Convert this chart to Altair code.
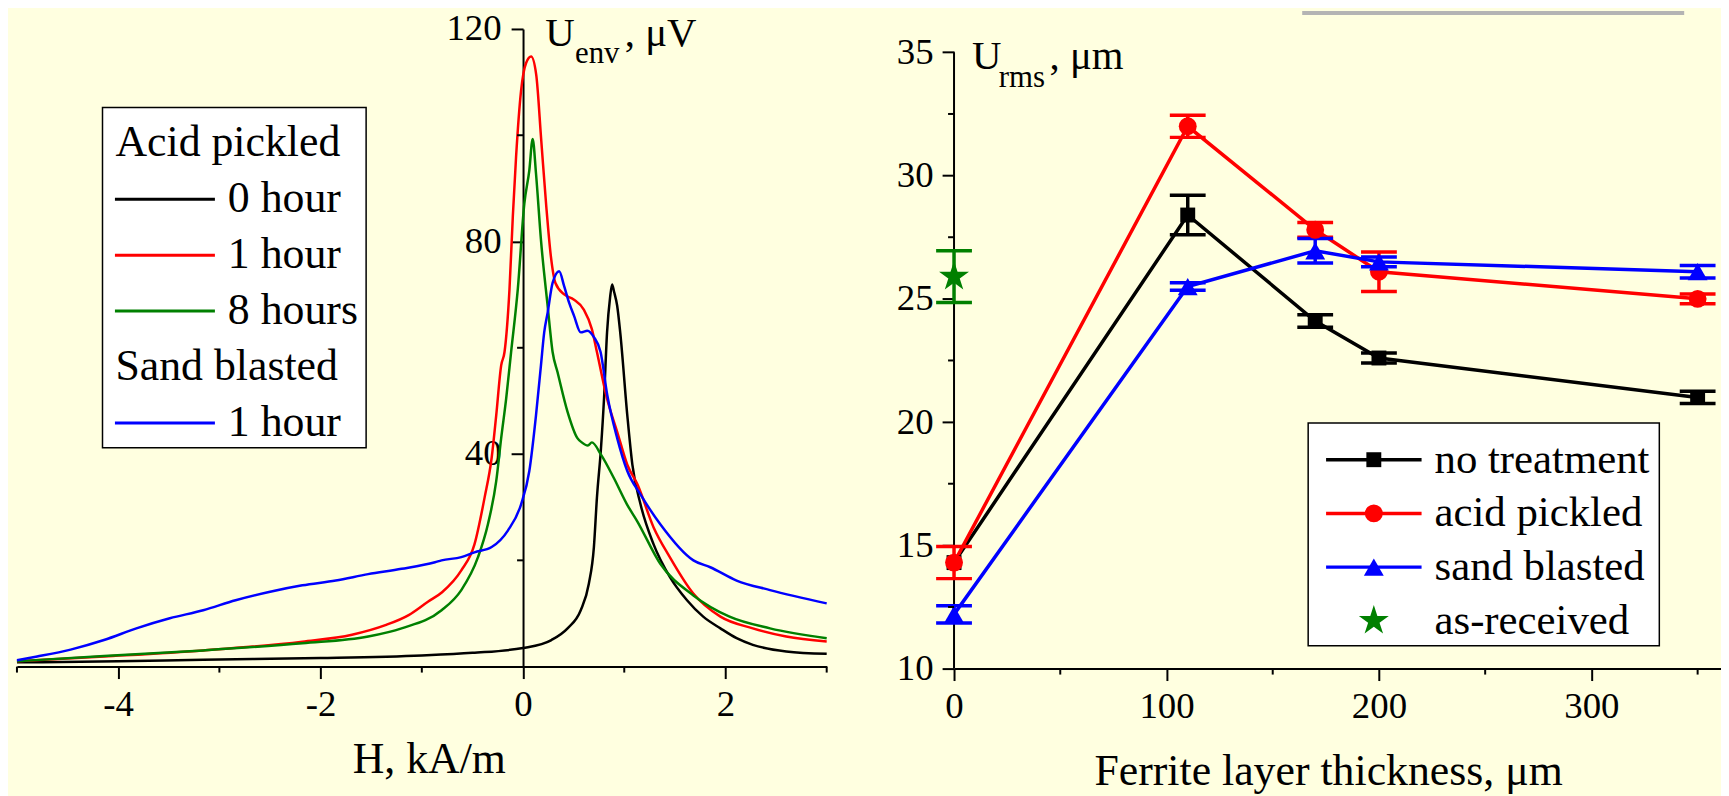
import altair as alt
import pandas as pd

FONT = ("Liberation Serif, Tinos, Nimbus Roman, Noto Serif, FreeSerif, "
        "DejaVu Serif, Times New Roman, Times, serif")
BG = "#FFFFE0"

# ---------------- left panel: U_env (µV) versus H (kA/m) ----------------
acid0_H = [-5.0, -4.0, -3.16, -2.0, -1.0, -0.5, 0.0, 0.28, 0.44, 0.57, 0.65, 0.70, 0.73, 0.77,
           0.80, 0.83, 0.86, 0.88, 0.90, 0.93, 0.96, 1.03, 1.08, 1.16, 1.29, 1.45, 1.62, 1.78,
           1.95, 2.11, 2.27, 2.6, 3.0]
acid0_U = [0.8, 1.0, 1.3, 1.6, 2.1, 2.6, 3.5, 5.0, 7.2, 10.6, 15.6, 22.5, 31.8, 41.1,
           50.4, 62.9, 69.5, 71.9, 70.5, 67.9, 62.9, 47.3, 38.0, 30.6, 23.0, 16.9, 12.5, 9.4,
           7.2, 5.35, 4.1, 2.86, 2.4]

acid1_H = [-5.0, -4.14, -3.16, -2.18, -1.69, -1.36, -1.13, -0.94, -0.80, -0.61, -0.48, -0.38,
           -0.31, -0.265, -0.216, -0.183, -0.134, -0.101, -0.069, -0.02, 0.03, 0.08, 0.13,
           0.18, 0.23, 0.275, 0.32, 0.41, 0.50, 0.60, 0.68, 0.73, 0.83, 0.93, 1.03, 1.13,
           1.29, 1.45, 1.68, 1.95, 2.27, 2.6, 3.0]
acid1_U = [1.0, 1.9, 3.05, 4.7, 6.0, 7.8, 9.7, 12.2, 14.0, 18.1, 23.0, 31.8,
           39.3, 47.3, 56.7, 59.2, 71.0, 84.7, 95.9, 108.3, 113.6, 114.8, 111.4,
           99.0, 86.5, 77.2, 72.2, 70.0, 69.1, 67.2, 63.5, 59.2, 50.4, 44.2, 38.0, 34.3,
           26.2, 20.6, 13.8, 9.4, 7.2, 5.66, 4.73]

acid8_H = [-5.0, -4.14, -3.16, -2.18, -1.53, -1.2, -0.805, -0.61, -0.445, -0.347, -0.265,
           -0.216, -0.167, -0.118, -0.052, 0.013, 0.062, 0.095, 0.128, 0.177, 0.243, 0.292,
           0.341, 0.439, 0.537, 0.58, 0.64, 0.68, 0.77, 0.897, 1.028, 1.127, 1.356, 1.683,
           2.04, 2.44, 3.0]
acid8_U = [1.0, 2.0, 3.05, 4.4, 5.66, 7.2, 10.6, 14.4, 20.6, 26.8, 34.9,
           43.0, 50.4, 59.2, 71.0, 87.2, 93.4, 99.3, 92.8, 80.3, 67.9, 59.2,
           55.4, 48.0, 43.0, 42.2, 41.6, 42.2, 39.9, 35.5, 30.5, 27.4, 19.35, 13.4,
           9.4, 7.2, 5.35]

sand1_H = [-5.0, -4.8, -4.47, -4.14, -3.82, -3.49, -3.16, -2.84, -2.51, -2.18, -1.85, -1.53,
           -1.2, -0.87, -0.805, -0.61, -0.48, -0.31, -0.15, -0.02, 0.062, 0.128, 0.177, 0.209,
           0.243, 0.292, 0.357, 0.406, 0.455, 0.504, 0.57, 0.636, 0.70, 0.766, 0.832, 0.93,
           1.03, 1.16, 1.356, 1.683, 1.85, 2.11, 2.44, 3.0]
sand1_U = [1.2, 1.9, 3.2, 5.0, 7.2, 9.1, 10.6, 12.5, 14.05, 15.3, 16.2, 17.4,
           18.4, 19.65, 20.0, 20.6, 21.5, 22.5, 25.6, 30.5, 36.8, 47.3, 56.7, 62.9,
           66.6, 72.2, 74.4, 71.6, 68.5, 66.0, 62.9, 63.2, 62.0, 59.2, 51.1, 43.0,
           36.8, 32.4, 26.8, 20.0, 18.7, 16.2, 14.4, 11.9]

left_series = ["acid 0 hour", "acid 1 hour", "acid 8 hours", "sand 1 hour"]
left_colors = ["#000000", "#FF0000", "#008000", "#0000FF"]
left_legend_labels = ["Acid pickled", "0 hour", "1 hour", "8 hours", "Sand blasted", "1 hour"]
left_legend_keys = ["", "acid 0 hour", "acid 1 hour", "acid 8 hours", "", "sand 1 hour"]

# ---------------- right panel: U_rms versus ferrite layer thickness ----------------
thickness = [0, 110, 170, 200, 350]
no_treat = [14.3, 28.4, 24.1, 22.6, 21.0]
no_treat_err = [0.0, 0.8, 0.25, 0.2, 0.25]
acid = [14.3, 32.0, 27.8, 26.1, 25.0]
acid_err = [0.65, 0.45, 0.3, 0.8, 0.2]
sand = [12.2, 25.5, 26.95, 26.5, 26.1]
sand_err = [0.35, 0.15, 0.5, 0.2, 0.25]
asrec_x = [0]
asrec = [25.9]
asrec_err = [1.05]
right_series = ["no treatment", "acid pickled", "sand blasted", "as-received"]
right_colors = ["#000000", "#FF0000", "#0000FF", "#008000"]

STAR = ("M0,-1L0.2245,-0.309L0.9511,-0.309L0.3633,0.118L0.5878,0.809L0,0.382"
        "L-0.5878,0.809L-0.3633,0.118L-0.9511,-0.309L-0.2245,-0.309Z")
right_shapes = ["square", "circle", "triangle-up", STAR]
right_sizes = [225, 324, 400, 1000]

# ---------------- tables ----------------
rows = []
for s, hs, us in zip(left_series, [acid0_H, acid1_H, acid8_H, sand1_H],
                     [acid0_U, acid1_U, acid8_U, sand1_U]):
    for h, u in zip(hs, us):
        rows.append({"series": s, "H": h, "U": u})
curves = pd.DataFrame(rows)

prow = []
for s, xs, ys, es in zip(right_series,
                         [thickness, thickness, thickness, asrec_x],
                         [no_treat, acid, sand, asrec],
                         [no_treat_err, acid_err, sand_err, asrec_err]):
    for xv, yv, ev in zip(xs, ys, es):
        prow.append({"series": s, "t": xv, "u": yv, "lo": yv - ev, "hi": yv + ev})
pts = pd.DataFrame(prow)

one = pd.DataFrame({"k": [0]})

# ---------------- left chart ----------------
W1, H1 = 814, 641
x0px = W1 * 5 / 8
xs1 = alt.Scale(domain=[-5, 3], nice=False, zero=False)
ys1 = alt.Scale(domain=[0, 120], nice=False)
cs1 = alt.Scale(domain=left_series, range=left_colors)
neg_label = "datum.value < 0 ? '-' + abs(datum.value) : '' + datum.value"

left_lines = alt.Chart(curves).mark_line(strokeWidth=2.5, interpolate="monotone").encode(
    x=alt.X("H:Q", scale=xs1, axis=alt.Axis(values=[-4, -2, 0, 2], title="H, kA/m",
            tickSize=12, labelPadding=8, labelFlush=False, labelExpr=neg_label,
            titleX=414, titleY=93, titleAlign="center", titleBaseline="middle")),
    y=alt.Y("U:Q", scale=ys1, axis=alt.Axis(values=[40, 80, 120], title=None,
            offset=-x0px, tickSize=12, labelPadding=10)),
    color=alt.Color("series:N", scale=cs1, legend=None),
)

minor_x1 = pd.DataFrame({"v": [-5, -3, -1, 1, 3]})
minor_y1 = pd.DataFrame({"v": [20, 60, 100]})
left_mx = alt.Chart(minor_x1).mark_rule(color="black", strokeWidth=2).encode(
    x="v:Q", y=alt.value(H1), y2=alt.value(H1 + 6))
left_my = alt.Chart(minor_y1).mark_rule(color="black", strokeWidth=2).encode(
    y="v:Q", x=alt.value(x0px - 6), x2=alt.value(x0px))

leg1 = pd.DataFrame({"label": left_legend_labels, "key": left_legend_keys,
                     "row": list(range(6))})
leg1["py"] = 115 + leg1["row"] * 56.2
leg1_box = alt.Chart(one).mark_rect(fill="white", stroke="black", strokeWidth=1.5).encode(
    x=alt.value(86), x2=alt.value(351), y=alt.value(79), y2=alt.value(421))
leg1_head = alt.Chart(leg1).transform_filter("datum.key == ''").mark_text(
    align="left", baseline="middle", font=FONT, fontSize=44, color="black").encode(
    x=alt.value(99), y=alt.Y("py:Q", scale=None), text="label:N")
leg1_lines = alt.Chart(leg1).transform_filter("datum.key != ''").mark_rule(strokeWidth=3).encode(
    x=alt.value(98.5), x2=alt.value(199), y=alt.Y("py:Q", scale=None),
    color=alt.Color("key:N", scale=cs1, legend=None))
leg1_text = alt.Chart(leg1).transform_filter("datum.key != ''").mark_text(
    align="left", baseline="middle", font=FONT, fontSize=44, color="black").encode(
    x=alt.value(212), y=alt.Y("py:Q", scale=None), text="label:N")

t1a = alt.Chart(one).mark_text(text="U", align="left", baseline="alphabetic", font=FONT,
                               fontSize=41, color="black").encode(x=alt.value(531), y=alt.value(17))
t1b = alt.Chart(one).mark_text(text="env", align="left", baseline="alphabetic", font=FONT,
                               fontSize=31, color="black").encode(x=alt.value(561), y=alt.value(34))
t1c = alt.Chart(one).mark_text(text=", μV", align="left", baseline="alphabetic", font=FONT,
                               fontSize=41, color="black").encode(x=alt.value(611), y=alt.value(17))

left = alt.layer(left_lines, left_mx, left_my, leg1_box, leg1_head, leg1_lines, leg1_text,
                 t1a, t1b, t1c).properties(width=W1, height=H1)

# ---------------- right chart ----------------
W2, H2 = 771, 643
ytop = 10 + 25 * H2 / 619.5
xs2 = alt.Scale(domain=[0, 361], nice=False, zero=False)
ys2 = alt.Scale(domain=[10, ytop], nice=False, zero=False)
cs2 = alt.Scale(domain=right_series, range=right_colors)

ydom = alt.Chart(pd.DataFrame({"a": [10], "b": [35]})).mark_rule(
    color="black", strokeWidth=2).encode(
    x=alt.value(0),
    y=alt.Y("a:Q", scale=ys2, axis=alt.Axis(values=[10, 15, 20, 25, 30, 35], title=None,
            domain=False, tickSize=12, labelPadding=9)),
    y2="b:Q")

base2 = alt.Chart(pts)
errbase = base2.transform_filter("datum.hi > datum.lo")
r_lines = base2.transform_filter("datum.series != 'as-received'").mark_line(strokeWidth=3.5).encode(
    x=alt.X("t:Q", scale=xs2, axis=alt.Axis(values=[0, 100, 200, 300],
            title="Ferrite layer thickness, μm", tickSize=12, labelPadding=8,
            labelFlush=False, titleX=376, titleY=104, titleAlign="center",
            titleBaseline="middle")),
    y="u:Q",
    color=alt.Color("series:N", scale=cs2, legend=None))
r_err = errbase.mark_rule(strokeWidth=3.5).encode(
    x="t:Q", y="lo:Q", y2="hi:Q", color=alt.Color("series:N", scale=cs2, legend=None))
r_cap_lo = errbase.mark_rule(strokeWidth=3.5, xOffset=-18, x2Offset=18).encode(
    x="t:Q", x2="t:Q", y="lo:Q", color=alt.Color("series:N", scale=cs2, legend=None))
r_cap_hi = errbase.mark_rule(strokeWidth=3.5, xOffset=-18, x2Offset=18).encode(
    x="t:Q", x2="t:Q", y="hi:Q", color=alt.Color("series:N", scale=cs2, legend=None))

point_layers = []
legend_point_layers = []
leg2 = pd.DataFrame({"series": right_series, "row": list(range(4))})
leg2["py"] = 433 + leg2["row"] * 54
for s, col, shp, sz in zip(right_series, right_colors, right_shapes, right_sizes):
    point_layers.append(
        base2.transform_filter(alt.datum.series == s).mark_point(
            filled=True, opacity=1, strokeWidth=0, shape=shp, size=sz, color=col).encode(
            x="t:Q", y="u:Q"))
    legend_point_layers.append(
        alt.Chart(leg2).transform_filter(alt.datum.series == s).mark_point(
            filled=True, opacity=1, strokeWidth=0, shape=shp, size=sz, color=col).encode(
            x=alt.value(422), y=alt.Y("py:Q", scale=None)))

minor_x2 = pd.DataFrame({"v": [50, 150, 250, 350]})
minor_y2 = pd.DataFrame({"v": [12.5, 17.5, 22.5, 27.5, 32.5]})
r_mx = alt.Chart(minor_x2).mark_rule(color="black", strokeWidth=2).encode(
    x="v:Q", y=alt.value(H2), y2=alt.value(H2 + 6))
r_my = alt.Chart(minor_y2).mark_rule(color="black", strokeWidth=2).encode(
    y="v:Q", x=alt.value(-6), x2=alt.value(0))

leg2_box = alt.Chart(one).mark_rect(fill="white", stroke="black", strokeWidth=1.5).encode(
    x=alt.value(356), x2=alt.value(709), y=alt.value(396), y2=alt.value(620))
leg2_lines = alt.Chart(leg2).transform_filter("datum.series != 'as-received'").mark_rule(
    strokeWidth=3.5).encode(x=alt.value(374), x2=alt.value(470), y=alt.Y("py:Q", scale=None),
                            color=alt.Color("series:N", scale=cs2, legend=None))
leg2_text = alt.Chart(leg2).mark_text(align="left", baseline="middle", font=FONT,
                                      fontSize=43, color="black").encode(
    x=alt.value(483), y=alt.Y("py:Q", scale=None), text="series:N")

t2a = alt.Chart(one).mark_text(text="U", align="left", baseline="alphabetic", font=FONT,
                               fontSize=41, color="black").encode(x=alt.value(18), y=alt.value(40))
t2b = alt.Chart(one).mark_text(text="rms", align="left", baseline="alphabetic", font=FONT,
                               fontSize=31, color="black").encode(x=alt.value(45), y=alt.value(58))
t2c = alt.Chart(one).mark_text(text=", μm", align="left", baseline="alphabetic", font=FONT,
                               fontSize=41, color="black").encode(x=alt.value(96), y=alt.value(40))

grey_bar = alt.Chart(one).mark_rect(fill="#B4B4B4").encode(
    x=alt.value(350), x2=alt.value(734), y=alt.value(-18), y2=alt.value(-14))

right = alt.layer(ydom, r_lines, r_err, r_cap_lo, r_cap_hi, *point_layers, r_mx, r_my,
                  leg2_box, leg2_lines, *legend_point_layers, leg2_text, t2a, t2b, t2c,
                  grey_bar).properties(width=W2, height=H2)

chart = alt.hconcat(left, right, spacing=128, bounds="flush").resolve_scale(
    color="independent"
).properties(
    padding={"left": 4, "top": 0, "right": 0, "bottom": 0},
    background=BG,
).configure_view(stroke=None).configure_axis(
    labelFont=FONT, titleFont=FONT, labelFontSize=37, titleFontSize=44,
    titleFontWeight="normal", labelColor="black", titleColor="black",
    domainColor="black", tickColor="black", domainWidth=2, tickWidth=2, grid=False,
)

chart.save("out.html", embed_options={"renderer": "svg", "actions": False})
